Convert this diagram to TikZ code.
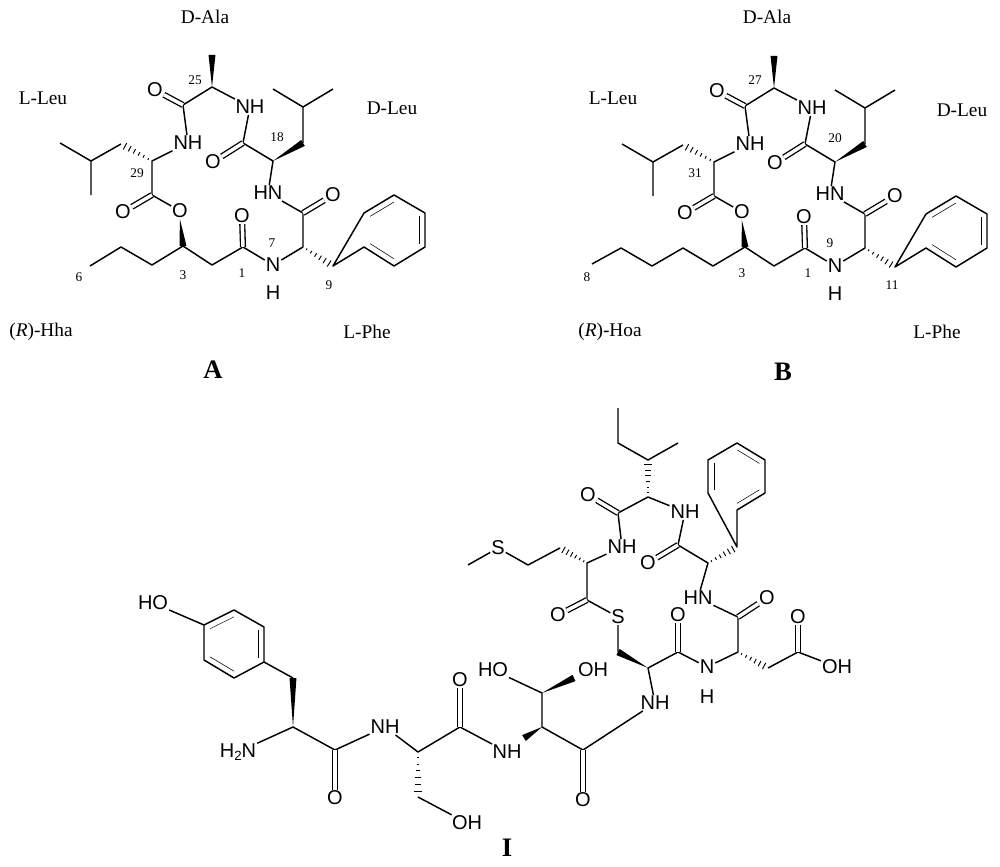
\documentclass[tikz,border=0pt]{standalone}
\usepackage{fontspec}
\setmainfont{Liberation Serif}
\setsansfont{Liberation Sans}
\usetikzlibrary{calc}

% bond helpers
\newcommand{\wedgeb}[2]{\fill (#1) -- ($(#2)!2.6pt!90:(#1)$) -- ($(#2)!2.6pt!-90:(#1)$) -- cycle;}
\newcommand{\hashb}[2]{\foreach \t in {0.12,0.27,...,0.95}{%
  \pgfmathsetmacro\w{0.4+2.6*\t}%
  \draw[line width=0.7pt] ($($(#1)!\t!(#2)$)!\w pt!90:(#2)$) -- ($($(#1)!\t!(#2)$)!\w pt!-90:(#2)$);}}
\newcommand{\ringin}[3]{\draw ($(#1)!.2!(#3)$) -- ($(#2)!.2!(#3)$);}

% common cyclic core of A and B
\newcommand{\cyclo}{%
  \coordinate (m1) at (212,55);  \coordinate (c25) at (212,87);
  \coordinate (c24) at (183,105); \coordinate (c29) at (152,161);
  \coordinate (l1) at (121,144); \coordinate (l2) at (91,161);
  \coordinate (l3) at (60,143);  \coordinate (l4) at (91,195);
  \coordinate (ce) at (152,195); \coordinate (c3) at (183,246);
  \coordinate (c2) at (212,265); \coordinate (c1) at (243,247);
  \coordinate (cp) at (303,247); \coordinate (cc) at (303,213);
  \coordinate (cb) at (333,266); \coordinate (c18) at (273,161);
  \coordinate (c17) at (243,143); \coordinate (d1) at (303,143);
  \coordinate (d2) at (303,107); \coordinate (d3) at (273,89);
  \coordinate (d4) at (333,89);
  \coordinate (p1) at (364,247); \coordinate (p2) at (394,266);
  \coordinate (p3) at (425,247); \coordinate (p4) at (425,213);
  \coordinate (p5) at (394,195); \coordinate (p6) at (364,213);
  \coordinate (pc) at (394,230);
  \node[atom] (o1) at (155,90) {O};
  \node[atom] (nA) at (250,107) {NH};
  \node[atom] (nL) at (188,143) {NH};
  \node[atom] (o2) at (123,212) {O};
  \node[atom] (oe) at (180,211) {O};
  \node[atom] (o3) at (242,216) {O};
  \node[atom] (n7) at (273,265) {N};
  \node[atom] (h7) at (273,293) {H};
  \node[atom] (o4) at (333,195) {O};
  \node[atom] (nD) at (268,193) {HN};
  \node[atom] (o5) at (213,162) {O};
  \wedgeb{c25}{m1}
  \draw[bond] (nA) -- (c25) -- (c24) -- (nL) -- (c29) -- (ce) -- (oe);
  \draw[dbl] (c24) -- (o1);
  \hashb{c29}{l1}
  \draw[bond] (l1) -- (l2) -- (l3) (l2) -- (l4);
  \draw[dbl] (ce) -- (o2);
  \wedgeb{oe}{c3}
  \draw[bond] (c3) -- (c2) -- (c1) -- (n7) -- (cp) -- (cc) -- (nD) -- (c18) -- (c17) -- (nA);
  \draw[dbl] (c1) -- (o3);
  \draw[dbl] (cc) -- (o4);
  \draw[dbl] (c17) -- (o5);
  \hashb{cp}{cb}
  \draw[bond] (cb) -- (p1) -- (p2) -- (p3) -- (p4) -- (p5) -- (p6) -- cycle;
  \ringin{p1}{p2}{pc} \ringin{p3}{p4}{pc} \ringin{p5}{p6}{pc}
  \wedgeb{c18}{d1}
  \draw[bond] (d1) -- (d2) -- (d3) (d2) -- (d4);
}

\begin{document}
\begin{tikzpicture}[x=0.75pt,y=-0.75pt,
    bond/.style={line width=1.1pt, line join=round},
    dbl/.style={double, double distance=2.6pt, line width=1.0pt},
    atom/.style={font=\sffamily\fontsize{15}{15}\selectfont, inner sep=0.6pt},
    num/.style={font=\fontsize{10}{10}\selectfont},
    resid/.style={font=\fontsize{14.5}{14.5}\selectfont},
    tag/.style={font=\bfseries\fontsize{20}{20}\selectfont}
  ]
  \useasboundingbox (0,0) rectangle (1000,867);

  % compound A
  \begin{scope}[name prefix=a-]
    \cyclo
    \coordinate (h1) at (152,265); \coordinate (h2) at (121,247);
    \coordinate (h3) at (90,266);
    \draw[bond] (c3) -- (h1) -- (h2) -- (h3);
    \node[num] at (195,80) {25};
    \node[num] at (137,173) {29};
    \node[num] at (277,137) {18};
    \node[num] at (272,243) {7};
    \node[num] at (242,273) {1};
    \node[num] at (183,275) {3};
    \node[num] at (79,277) {6};
    \node[num] at (329,285) {9};
  \end{scope}
  \node[resid] at (205,17) {D-Ala};
  \node[resid] at (43,98) {L-Leu};
  \node[resid] at (392,108) {D-Leu};
  \node[resid] at (41,332) {(\textit{R})-Hha};
  \node[resid] at (367,332) {L-Phe};
  \node[tag] at (213,370) {A};

  % compound B
  \begin{scope}[shift={(562,1)}, name prefix=b-]
    \cyclo
    \coordinate (h1) at (151,265); \coordinate (h2) at (121,247);
    \coordinate (h3) at (90,265);  \coordinate (h4) at (59,247);
    \coordinate (h5) at (30,263);
    \draw[bond] (c3) -- (h1) -- (h2) -- (h3) -- (h4) -- (h5);
    \node[num] at (193,79) {27};
    \node[num] at (133,172) {31};
    \node[num] at (273,137) {20};
    \node[num] at (268,242) {9};
    \node[num] at (246,272) {1};
    \node[num] at (180,272) {3};
    \node[num] at (25,276) {8};
    \node[num] at (330,284) {11};
  \end{scope}
  \node[resid] at (767,17) {D-Ala};
  \node[resid] at (613,98) {L-Leu};
  \node[resid] at (962,110) {D-Leu};
  \node[resid] at (610,332) {(\textit{R})-Hoa};
  \node[resid] at (937,332) {L-Phe};
  \node[tag] at (783,372) {B};

  % compound I
  \coordinate (ty1) at (204,625); \coordinate (ty2) at (234,610);
  \coordinate (ty3) at (264,627); \coordinate (ty4) at (264,662);
  \coordinate (ty5) at (234,678); \coordinate (ty6) at (204,660);
  \coordinate (tyc0) at (234,644);
  \coordinate (tyb) at (293,678); \coordinate (tya) at (293,727);
  \coordinate (tyc) at (335,750);
  \coordinate (ser) at (418,752); \coordinate (sb) at (418,797);
  \coordinate (serc) at (460,727);
  \coordinate (thr) at (542,727); \coordinate (thb) at (542,693);
  \coordinate (tw1) at (524,738); \coordinate (tw2) at (574,678);
  \coordinate (thc) at (583,750);
  \coordinate (cys) at (648,668); \coordinate (cyb) at (618,652);
  \coordinate (mc) at (587,600);  \coordinate (met) at (587,563);
  \coordinate (mb1) at (560,548); \coordinate (mb2) at (528,565);
  \coordinate (mme) at (468,565);
  \coordinate (ic) at (618,513);  \coordinate (ile) at (648,497);
  \coordinate (ib) at (648,460);  \coordinate (im) at (678,443);
  \coordinate (ie1) at (618,443); \coordinate (ie2) at (618,408);
  \coordinate (fc) at (678,545);  \coordinate (phe) at (708,563);
  \coordinate (fb) at (737,547);
  \coordinate (f1) at (737,510); \coordinate (f2) at (765,493);
  \coordinate (f3) at (765,460); \coordinate (f4) at (737,443);
  \coordinate (f5) at (708,460); \coordinate (f6) at (708,493);
  \coordinate (fc0) at (737,477);
  \coordinate (ac) at (738,617);  \coordinate (asp) at (738,652);
  \coordinate (cc2) at (678,652); \coordinate (ab) at (768,668);
  \coordinate (acx) at (798,652);
  \node[atom] (tyoh) at (153,603) {HO};
  \node[atom] (nh2t) at (238,752) {H\raisebox{-0.35ex}{\fontsize{10}{10}\selectfont 2}N};
  \node[atom] (tyo) at (335,798) {O};
  \node[atom] (n1) at (385,727) {NH};
  \node[atom] (soh) at (467,823) {OH};
  \node[atom] (sero) at (460,680) {O};
  \node[atom] (n2) at (507,752) {NH};
  \node[atom] (tho1) at (493,670) {HO};
  \node[atom] (tho2) at (593,670) {OH};
  \node[atom] (tho) at (583,800) {O};
  \node[atom] (n3) at (655,703) {NH};
  \node[atom] (cs) at (618,617) {S};
  \node[atom] (mo) at (558,615) {O};
  \node[atom] (ms) at (498,548) {S};
  \node[atom] (n4) at (622,547) {NH};
  \node[atom] (io) at (588,495) {O};
  \node[atom] (n5) at (685,512) {NH};
  \node[atom] (fo) at (648,563) {O};
  \node[atom] (n6) at (698,598) {HN};
  \node[atom] (ao) at (767,598) {O};
  \node[atom] (n7) at (707,667) {N};
  \node[atom] (h7) at (707,697) {H};
  \node[atom] (co2) at (678,615) {O};
  \node[atom] (aco) at (798,617) {O};
  \node[atom] (aoh) at (837,667) {OH};

  \draw[bond] (ty1) -- (ty2) -- (ty3) -- (ty4) -- (ty5) -- (ty6) -- cycle;
  \ringin{ty1}{ty2}{tyc0} \ringin{ty3}{ty4}{tyc0} \ringin{ty5}{ty6}{tyc0}
  \draw[bond] (tyoh) -- (ty1) (ty4) -- (tyb);
  \wedgeb{tya}{tyb}
  \draw[bond] (nh2t) -- (tya) -- (tyc) -- (n1) -- (ser) -- (serc) -- (n2);
  \draw[dbl] (tyc) -- (tyo);
  \draw[dbl] (serc) -- (sero);
  \hashb{ser}{sb}
  \draw[bond] (sb) -- (soh);
  \wedgeb{thr}{tw1}
  \draw[bond] (thr) -- (thb) -- (tho1) (thr) -- (thc) -- (n3) -- (cys);
  \wedgeb{thb}{tw2}
  \draw[dbl] (thc) -- (tho);
  \wedgeb{cys}{cyb}
  \draw[bond] (cyb) -- (cs) -- (mc) -- (met) -- (n4) -- (ic) -- (ile) -- (n5) -- (fc) -- (phe) -- (n6) -- (ac) -- (asp) -- (n7) -- (cc2) -- (cys);
  \draw[dbl] (mc) -- (mo);
  \draw[dbl] (ic) -- (io);
  \draw[dbl] (fc) -- (fo);
  \draw[dbl] (ac) -- (ao);
  \draw[dbl] (cc2) -- (co2);
  \hashb{met}{mb1}
  \draw[bond] (mb1) -- (mb2) -- (ms) -- (mme);
  \hashb{ile}{ib}
  \draw[bond] (ie2) -- (ie1) -- (ib) -- (im);
  \hashb{phe}{fb}
  \draw[bond] (fb) -- (f1) -- (f2) -- (f3) -- (f4) -- (f5) -- (f6) -- cycle;
  \ringin{f5}{f6}{fc0} \ringin{f3}{f4}{fc0} \ringin{f1}{f2}{fc0}
  \hashb{asp}{ab}
  \draw[bond] (ab) -- (acx) -- (aoh);
  \draw[dbl] (acx) -- (aco);
  \node[tag] at (507,848) {I};
\end{tikzpicture}
\end{document}
